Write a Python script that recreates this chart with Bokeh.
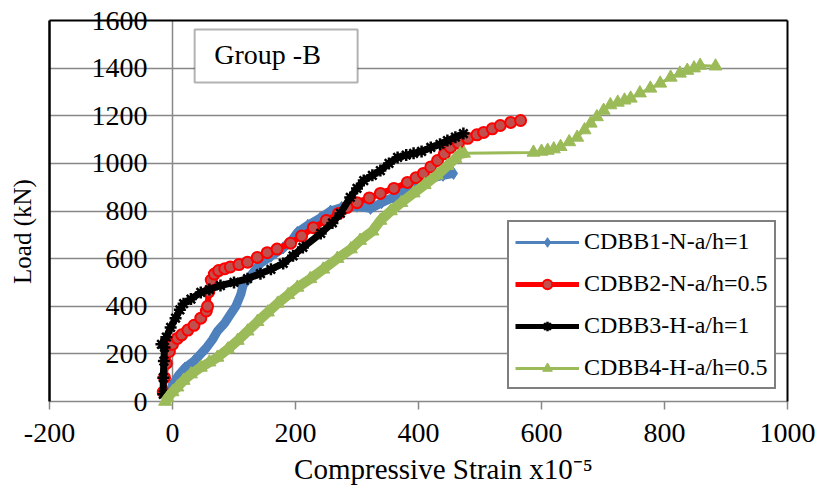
import math
from bokeh.plotting import figure
from bokeh.models import (Range1d, FixedTicker, LinearAxis, BoxAnnotation, Label,
                          Legend, LegendItem)
from bokeh.embed import file_html
from bokeh.resources import INLINE

# ---------------- data ----------------
x_ticks = [-200, 0, 200, 400, 600, 800, 1000]
y_ticks = [0, 200, 400, 600, 800, 1000, 1200, 1400, 1600]
y_axis_cross = [0]   # vertical axis crosses the strain axis at 0

x_title = "Compressive Strain x10\u207b\u2075"
y_title = "Load (kN)"
group_text = "Group -B"
names = ["CDBB1-N-a/h=1", "CDBB2-N-a/h=0.5", "CDBB3-H-a/h=1", "CDBB4-H-a/h=0.5"]

b1_x = [-10, -5, 0, 10, 20, 35, 46, 55, 65, 73, 85, 94, 103, 111, 115, 125, 135, 143, 160, 180,
        195, 203, 220, 240, 257, 275, 300, 322, 340, 359, 375, 392, 410, 424, 440, 457]
b1_y = [10, 40, 70, 110, 140, 170, 200, 225, 260, 295, 330, 365, 400, 450, 490, 520, 555, 580, 610, 645,
        680, 710, 740, 770, 800, 815, 820, 811, 835, 857, 880, 900, 920, 940, 950, 958]

b2_x = [-15, -13, -10, -5, 0, 8, 15, 25, 35, 46, 55, 57, 59, 63, 68, 75, 85, 94, 108, 122,
        138, 154, 170, 192, 210, 229, 250, 270, 284, 300, 320, 338, 360, 382, 396, 408, 420, 431,
        442, 452, 465, 480, 495, 506, 520, 533, 550, 566]
b2_y = [40, 100, 160, 210, 240, 265, 280, 300, 320, 350, 380, 400, 460, 510, 535, 550, 558, 565, 575, 585,
        605, 625, 640, 665, 695, 730, 760, 790, 815, 835, 855, 874, 895, 920, 940, 958, 985, 1012,
        1040, 1067, 1085, 1105, 1120, 1130, 1145, 1159, 1172, 1180]

b3_x = [-15, -15, -14, -13, -18, -10, -3, 5, 12, 18, 30, 46, 60, 78, 100, 122, 143, 160, 180, 196,
        212, 241, 260, 273, 289, 300, 311, 325, 338, 352, 366, 380, 392, 405, 420, 435, 447, 460, 473]
b3_y = [30, 100, 170, 227, 240, 270, 311, 350, 385, 411, 430, 458, 470, 487, 500, 516, 537, 555, 580, 612,
        647, 706, 750, 790, 857, 895, 928, 950, 970, 1000, 1025, 1035, 1042, 1050, 1067, 1080, 1096, 1110, 1125]

b4_x = [-12, -8, 0, 8, 18, 30, 46, 60, 73, 90, 106, 122, 138, 155, 171, 188, 203, 224, 245, 268,
        290, 305, 325, 338, 355, 372, 392, 410, 430, 447, 460, 468, 474, 587, 600, 610, 620, 631,
        645, 658, 670, 680, 690, 701, 712, 724, 735, 745, 760, 777, 793, 810, 825, 837, 848, 858, 883]
b4_y = [0, 15, 40, 60, 88, 115, 143, 165, 185, 220, 256, 295, 335, 375, 412, 448, 479, 515, 555, 600,
        640, 676, 715, 760, 800, 835, 875, 910, 950, 990, 1020, 1040, 1042, 1046, 1050, 1054, 1060, 1070,
        1090, 1109, 1140, 1168, 1195, 1222, 1245, 1256, 1265, 1273, 1295, 1315, 1336, 1361, 1378, 1390, 1400, 1411, 1408]

# ---------------- layout / styles ----------------
W, H = 819, 491
PLOT_L, PLOT_R, PLOT_T, PLOT_B = 49, 787, 20, 401      # plot-area box in pixels
X0, X1 = x_ticks[0], x_ticks[-1]
Y0, Y1 = y_ticks[0], y_ticks[-1]
sx = (PLOT_R - PLOT_L) / (X1 - X0)
sy = (PLOT_B - PLOT_T) / (Y1 - Y0)

FONT = "Liberation Serif"
GRID = "#888888"
BLUE, RED, RED_FILL, BLACK, GREEN = "#4F81BD", "#FF0000", "#C0504D", "#000000", "#9BBB59"

p = figure(width=W, height=H, output_backend="svg", toolbar_location=None,
           x_range=Range1d(X0 - PLOT_L / sx, X1 + (W - PLOT_R) / sx),
           y_range=Range1d(Y0 - (H - PLOT_B) / sy, Y1 + PLOT_T / sy),
           x_axis_location=None, y_axis_location=None, min_border=0)
p.outline_line_color = None
p.background_fill_color = "white"
p.border_fill_color = "white"
p.xgrid.visible = False
p.ygrid.visible = False


def line_axis(loc, bounds, color, width, level="guide"):
    ax = LinearAxis(fixed_location=loc, bounds=bounds, ticker=FixedTicker(ticks=[]),
                    axis_line_color=color, axis_line_width=width,
                    major_tick_out=0, major_tick_in=0, minor_tick_out=0, minor_tick_in=0,
                    major_label_standoff=0)
    ax.level = level
    return ax


# gridlines (under the data): horizontal at each load tick, vertical at x = 0
for t in y_ticks[1:-1]:
    p.add_layout(line_axis(t, (X0, X1), GRID, 1.5, "underlay"), "below")
p.add_layout(line_axis(y_axis_cross[0], (Y0, Y1), GRID, 1.5, "underlay"), "left")

# bottom axis (gray line, ticks down, labels)
xa = LinearAxis(fixed_location=Y0, bounds=(X0, X1), ticker=FixedTicker(ticks=x_ticks),
                major_label_overrides={t: str(t) for t in x_ticks},
                major_label_text_font=FONT, major_label_text_font_size="28px",
                major_label_text_color="black", major_label_standoff=14,
                axis_line_color=GRID, axis_line_width=1.5,
                major_tick_line_color=GRID, major_tick_line_width=1.5,
                major_tick_out=8, major_tick_in=0, minor_tick_out=0, minor_tick_in=0)
xa.level = "underlay"
p.add_layout(xa, "below")

# black frame: left, top, right
p.add_layout(line_axis(X0, (Y0, Y1), "black", 2.5), "left")
p.add_layout(line_axis(Y1, (X0, X1), "black", 2), "above")
p.add_layout(line_axis(X1, (Y0, Y1), "black", 2), "right")

# load tick labels next to the x = 0 crossing
ylab = LinearAxis(fixed_location=y_axis_cross[0], bounds=(Y0, Y1), ticker=FixedTicker(ticks=y_ticks),
                  major_label_overrides={t: str(t) for t in y_ticks},
                  axis_line_color=None,
                  major_tick_out=0, major_tick_in=0, minor_tick_out=0, minor_tick_in=0,
                  major_label_standoff=25, major_label_text_font=FONT,
                  major_label_text_font_size="28px", major_label_text_color="black")
p.add_layout(ylab, "left")

# axis titles
p.add_layout(Label(x=443, y=H - 468, x_units="screen", y_units="screen", text=x_title,
                   text_align="center", text_baseline="middle", text_font=FONT,
                   text_font_size="29px", text_color="black"))
p.add_layout(Label(x=22, y=H - 231, x_units="screen", y_units="screen", text=y_title,
                   angle=math.pi / 2, text_align="center", text_baseline="middle",
                   text_font=FONT, text_font_size="25px", text_color="black"))

# ---------------- series ----------------
p.line(b1_x, b1_y, line_color=BLUE, line_width=9)
l1 = p.line(b1_x, b1_y, line_color=BLUE, line_width=3)
s1 = p.scatter(b1_x, b1_y, marker="diamond", size=12, fill_color=BLUE, line_color=BLUE)

p.line(b2_x, b2_y, line_color=RED, line_width=6)
l2 = p.line(b2_x, b2_y, line_color=RED, line_width=5)
s2 = p.scatter(b2_x, b2_y, marker="circle", size=11, fill_color=RED_FILL, line_color=RED, line_width=2)

p.line(b3_x, b3_y, line_color=BLACK, line_width=7)
l3 = p.line(b3_x, b3_y, line_color=BLACK, line_width=5)
s3 = p.scatter(b3_x, b3_y, marker="asterisk", size=12, line_color=BLACK, line_width=2.5)

p.line(b4_x[:33], b4_y[:33], line_color=GREEN, line_width=10)
l4 = p.line(b4_x, b4_y, line_color=GREEN, line_width=3)
s4 = p.scatter(b4_x, b4_y, marker="triangle", size=13, fill_color=GREEN, line_color=GREEN)

legend = Legend(items=[LegendItem(label=names[0], renderers=[l1, s1]),
                       LegendItem(label=names[1], renderers=[l2, s2]),
                       LegendItem(label=names[2], renderers=[l3, s3]),
                       LegendItem(label=names[3], renderers=[l4, s4])],
                location=(507, H - 389), border_line_color="black", border_line_width=2,
                background_fill_color="white", background_fill_alpha=1.0,
                label_text_font=FONT, label_text_font_size="24px", label_text_color="black",
                glyph_width=64, glyph_height=24, label_height=24, spacing=15,
                padding=6, label_standoff=5, margin=0)
p.add_layout(legend)

# "Group -B" text box
p.add_layout(BoxAnnotation(left=36, right=301, bottom=1340, top=1562,
                           fill_color="white", fill_alpha=1.0,
                           line_color="black", line_width=2))
p.add_layout(Label(x=68, y=1456, text=group_text, text_font=FONT, text_font_size="28px",
                   text_color="black", text_baseline="middle"))

open("out.html", "w").write(file_html(p, INLINE))
